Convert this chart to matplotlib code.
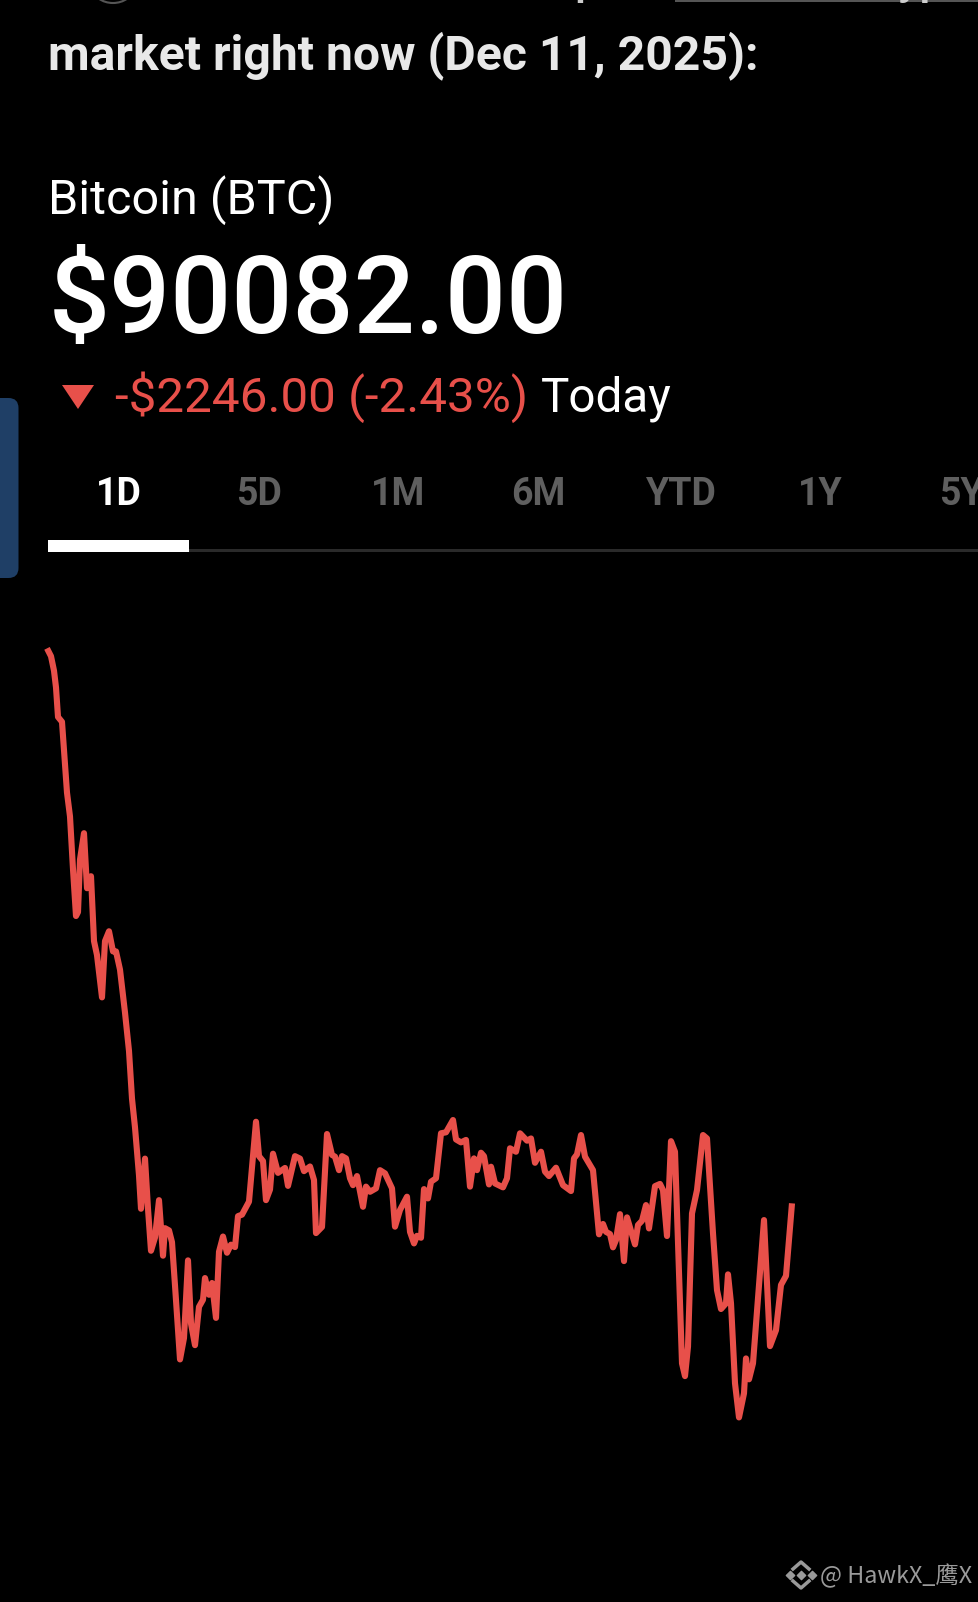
import matplotlib
matplotlib.use("Agg")
import matplotlib.pyplot as plt
from matplotlib.patches import Ellipse, FancyBboxPatch, Polygon, Rectangle

# minutes since the open
minutes = [0, 4, 7, 9, 11, 15, 17, 20, 23, 26, 29, 31, 33, 37, 40, 44, 47, 50, 55, 58, 62, 66, 69, 73,
           78, 82, 85, 88, 92, 94, 98, 101, 104, 108, 112, 116, 118, 122, 125, 128, 133, 137, 141, 144,
           148, 152, 156, 158, 162, 165, 169, 172, 176, 180, 184, 188, 191, 195, 202, 209, 212, 216,
           219, 223, 226, 231, 238, 241, 248, 253, 257, 263, 267, 269, 275, 280, 285, 288, 292, 295,
           299, 303, 306, 310, 316, 319, 323, 329, 333, 338, 345, 348, 353, 360, 363, 367, 370, 374,
           377, 381, 384, 389, 394, 399, 406, 409, 414, 419, 423, 427, 430, 434, 437, 442, 444, 448,
           456, 460, 463, 469, 473, 480, 484, 488, 494, 498, 502, 509, 516, 524, 527, 530, 534, 538,
           546, 552, 556, 559, 563, 566, 569, 573, 577, 580, 588, 591, 595, 599, 602, 608, 613, 616,
           620, 624, 628, 635, 638, 641, 645, 650, 656, 660, 666, 670, 674, 679, 681, 684, 688, 692,
           697, 699, 702, 706, 717, 723, 729, 734, 739, 745]
price = [92340, 92308, 92249, 92181, 92061, 92041, 91928, 91753, 91656, 91441, 91251, 91267, 91481,
         91588, 91364, 91413, 91149, 91092, 90920, 91149, 91189, 91107, 91107, 91033, 90858, 90702,
         90508, 90391, 90196, 90060, 90264, 90060, 89889, 89943, 90095, 89869, 89981, 89972, 89924,
         89748, 89447, 89534, 89850, 89593, 89505, 89661, 89690, 89778, 89710, 89758, 89616, 89885,
         89947, 89881, 89914, 89904, 90030, 90036, 90089, 90414, 90274, 90254, 90095, 90138, 90284,
         90206, 90226, 90153, 90274, 90264, 90213, 90232, 90177, 89961, 89986, 90364, 90279, 90272,
         90217, 90274, 90265, 90184, 90156, 90193, 90068, 90150, 90129, 90143, 90217, 90204, 90143,
         89987, 90055, 90109, 89966, 89919, 89950, 89942, 90140, 90102, 90170, 90184, 90367, 90371,
         90421, 90342, 90330, 90340, 90150, 90265, 90217, 90288, 90274, 90159, 90231, 90163, 90147,
         90184, 90306, 90292, 90367, 90337, 90346, 90247, 90292, 90211, 90193, 90227, 90156, 90132,
         90265, 90281, 90360, 90272, 90217, 89956, 89998, 89966, 89957, 89903, 89933, 90038, 89847,
         90025, 89915, 89994, 90011, 90075, 89980, 90152, 90161, 90136, 89949, 90335, 90292, 89431,
         89379, 89499, 90041, 90136, 90360, 90346, 89960, 89729, 89652, 89675, 89793, 89675, 89350,
         89211, 89309, 89451, 89366, 89431, 90014, 89501, 89566, 89750, 89787, 90082]

tabs = ["1D", "5D", "1M", "6M", "YTD", "1Y", "5Y"]
tab_centres = [119, 259, 398, 538, 680, 820, 961]

red = "#e8504a"
W, H = 979, 1602

fig = plt.figure(figsize=(W / 100, H / 100), dpi=100, facecolor="black")

ax = fig.add_axes([0, 0, 1, 1], facecolor="black")
n = min(len(minutes), len(price))
ax.plot(minutes[:n], price[:n], color=red, lw=4.4, solid_joinstyle="round", solid_capstyle="butt")
ax.set_xlim(-47, 932)
ax.set_ylim(88460, 94978)
ax.axis("off")

# everything around the chart is placed in screen pixels
ui = fig.add_axes([0, 0, 1, 1], facecolor="none")
ui.set_xlim(0, W)
ui.set_ylim(H, 0)
ui.axis("off")

plt.rcParams["font.family"] = ["Roboto", "DejaVu Sans"]

# bits of the line above, cut off by the screenshot
ui.add_patch(Ellipse((113, -12), 40, 30, fc="none", ec="#555555", lw=1.5))
ui.add_patch(Rectangle((675, -10), 304, 12, fc="#555555", ec="none"))
ui.text(574, -6, "p", fontsize=33, color="#cccccc", weight="medium", va="baseline")
ui.text(898, -6, "yp", fontsize=33, color="#cccccc", weight="medium", va="baseline")

ui.text(48, 69, "market right now (Dec 11, 2025):", fontsize=34.7, color="#e8e8e8", weight="bold")
ui.text(48, 214, "Bitcoin (BTC)", fontsize=35, color="white")
ui.text(49, 333, "$90082.00", fontsize=77.4, color="white", weight="medium")

ui.add_patch(Polygon([(62, 385), (94, 385), (78, 409)], fc=red, ec="none"))
ui.text(115, 412, "-$2246.00 (-2.43%)", fontsize=35.6, color=red)
ui.text(541, 412, "Today", fontsize=34.3, color="white")

for i in range(len(tabs)):
    col = "white" if i == 0 else "#5f5f5f"
    ui.text(tab_centres[i], 505, tabs[i], fontsize=27, color=col, weight="bold", ha="center", clip_on=False)

ui.add_patch(Rectangle((48, 549), 931, 3, fc="#2a2a2a", ec="none"))
ui.add_patch(Rectangle((48, 540), 141, 12, fc="white", ec="none"))

ui.add_patch(FancyBboxPatch((-20, 398), 38.5, 180, boxstyle="round,pad=0,rounding_size=10",
                            fc="#1f3f66", ec="none"))

# watermark logo
grey = "#9a9a9a"
ui.scatter([801], [1575], marker="D", s=18, color=grey)
ui.scatter([790, 812], [1575, 1575], marker="D", s=18, color=grey)
ui.plot([793, 801, 809], [1569, 1562, 1569], color=grey, lw=2.5)
ui.plot([793, 801, 809], [1581, 1588, 1581], color=grey, lw=2.5)
ui.text(820, 1583, "@ HawkX_鹰X", fontsize=16.8, color=grey,
        family=["Noto Sans CJK SC", "DejaVu Sans"])

fig.savefig("out.png", dpi=100, facecolor="black")
